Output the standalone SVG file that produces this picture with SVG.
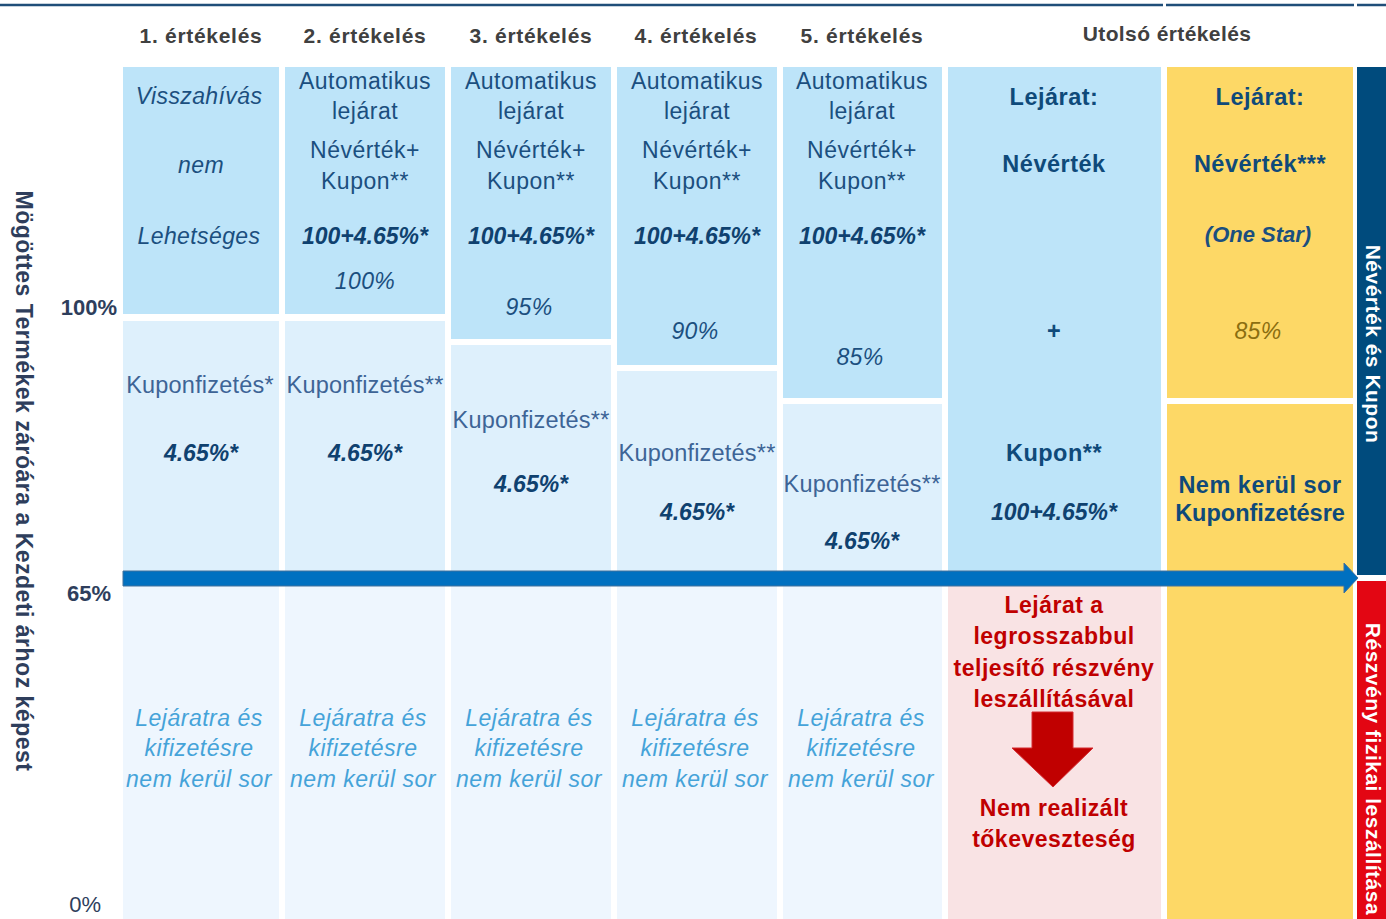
<svg xmlns="http://www.w3.org/2000/svg" width="1386" height="919" viewBox="0 0 1386 919">
<style>
text{font-family:"Liberation Sans",Arial,sans-serif;text-anchor:middle}
.hd{font-size:21px;font-weight:bold;fill:#404040;letter-spacing:0.7px}
.t{font-size:23px;fill:#1B4F7F;letter-spacing:0.5px}
.i{font-size:23px;font-style:italic;fill:#1B4F7F;letter-spacing:0.4px}
.bi{font-size:23px;font-style:italic;font-weight:bold;fill:#0F416F}
.kf{font-size:23.5px;fill:#3D6496;letter-spacing:0.2px}
.b{font-size:23.5px;font-weight:bold;fill:#0F4A7A;letter-spacing:0.5px}
.lo{font-size:23px;font-style:italic;fill:#45A3D9;letter-spacing:0.5px}
.rd{font-size:23px;font-weight:bold;fill:#C00000;letter-spacing:0.5px}
.ax{font-size:22px;font-weight:bold;fill:#2E3E5C;text-anchor:end}
.side{font-size:21px;font-weight:bold;fill:#FFFFFF;letter-spacing:0.5px}
.c1{fill:#BDE4F9}.c2{fill:#DEF0FC}.c3{fill:#EEF6FE}
</style>
<g id="topline" stroke="#1F4E79" stroke-width="2.5">
<line x1="0" y1="5" x2="1163" y2="5"/><line x1="1166" y1="5" x2="1354" y2="5"/><line x1="1357" y1="5" x2="1386" y2="5"/>
</g>
<g id="headers">
<text class="hd" x="201" y="43">1. értékelés</text>
<text class="hd" x="365" y="43">2. értékelés</text>
<text class="hd" x="531" y="43">3. értékelés</text>
<text class="hd" x="696" y="43">4. értékelés</text>
<text class="hd" x="862" y="43">5. értékelés</text>
<text class="hd" x="1167" y="41" style="letter-spacing:0.4px">Utolsó értékelés</text>
</g>
<g id="yaxis">
<text class="ax" x="117" y="315">100%</text>
<text class="ax" x="111" y="601">65%</text>
<text class="ax" x="101" y="912" style="font-weight:normal">0%</text>
<text x="16" y="481" transform="rotate(90 16 481)" style="font-size:23px;font-weight:bold;fill:#2E3E5C;letter-spacing:0.5px">Mögöttes Termékek záróára a Kezdeti árhoz képest</text>
</g>
<g id="col1">
<rect class="c1" x="123" y="67" width="156" height="247"/>
<rect class="c2" x="123" y="321" width="156" height="250"/>
<rect class="c3" x="123" y="586" width="156" height="333"/>
<text class="i" x="199" y="104">Visszahívás</text>
<text class="i" x="201" y="173">nem</text>
<text class="i" x="199" y="244">Lehetséges</text>
<text class="kf" x="200" y="393">Kuponfizetés*</text>
<text class="bi" x="201" y="461">4.65%*</text>
<text class="lo" x="199" y="726">Lejáratra és</text>
<text class="lo" x="199" y="756">kifizetésre</text>
<text class="lo" x="199" y="787">nem kerül sor</text>
</g>
<g id="col2">
<rect class="c1" x="285" y="67" width="160" height="247"/>
<rect class="c2" x="285" y="321" width="160" height="250"/>
<rect class="c3" x="285" y="586" width="160" height="333"/>
<text class="t" x="365" y="89">Automatikus</text>
<text class="t" x="365" y="119">lejárat</text>
<text class="t" x="365" y="158">Névérték+</text>
<text class="t" x="365" y="189">Kupon**</text>
<text class="bi" x="365" y="244">100+4.65%*</text>
<text class="i" x="365" y="289">100%</text>
<text class="kf" x="365" y="393">Kuponfizetés**</text>
<text class="bi" x="365" y="461">4.65%*</text>
<text class="lo" x="363" y="726">Lejáratra és</text>
<text class="lo" x="363" y="756">kifizetésre</text>
<text class="lo" x="363" y="787">nem kerül sor</text>
</g>
<g id="col3">
<rect class="c1" x="451" y="67" width="160" height="272"/>
<rect class="c2" x="451" y="345" width="160" height="226"/>
<rect class="c3" x="451" y="586" width="160" height="333"/>
<text class="t" x="531" y="89">Automatikus</text>
<text class="t" x="531" y="119">lejárat</text>
<text class="t" x="531" y="158">Névérték+</text>
<text class="t" x="531" y="189">Kupon**</text>
<text class="bi" x="531" y="244">100+4.65%*</text>
<text class="i" x="529" y="315">95%</text>
<text class="kf" x="531" y="428">Kuponfizetés**</text>
<text class="bi" x="531" y="492">4.65%*</text>
<text class="lo" x="529" y="726">Lejáratra és</text>
<text class="lo" x="529" y="756">kifizetésre</text>
<text class="lo" x="529" y="787">nem kerül sor</text>
</g>
<g id="col4">
<rect class="c1" x="617" y="67" width="160" height="298"/>
<rect class="c2" x="617" y="371" width="160" height="200"/>
<rect class="c3" x="617" y="586" width="160" height="333"/>
<text class="t" x="697" y="89">Automatikus</text>
<text class="t" x="697" y="119">lejárat</text>
<text class="t" x="697" y="158">Névérték+</text>
<text class="t" x="697" y="189">Kupon**</text>
<text class="bi" x="697" y="244">100+4.65%*</text>
<text class="i" x="695" y="339">90%</text>
<text class="kf" x="697" y="461">Kuponfizetés**</text>
<text class="bi" x="697" y="520">4.65%*</text>
<text class="lo" x="695" y="726">Lejáratra és</text>
<text class="lo" x="695" y="756">kifizetésre</text>
<text class="lo" x="695" y="787">nem kerül sor</text>
</g>
<g id="col5">
<rect class="c1" x="783" y="67" width="159" height="331"/>
<rect class="c2" x="783" y="404" width="159" height="167"/>
<rect class="c3" x="783" y="586" width="159" height="333"/>
<text class="t" x="862" y="89">Automatikus</text>
<text class="t" x="862" y="119">lejárat</text>
<text class="t" x="862" y="158">Névérték+</text>
<text class="t" x="862" y="189">Kupon**</text>
<text class="bi" x="862" y="244">100+4.65%*</text>
<text class="i" x="860" y="365">85%</text>
<text class="kf" x="862" y="492">Kuponfizetés**</text>
<text class="bi" x="862" y="549">4.65%*</text>
<text class="lo" x="861" y="726">Lejáratra és</text>
<text class="lo" x="861" y="756">kifizetésre</text>
<text class="lo" x="861" y="787">nem kerül sor</text>
</g>
<g id="final-blue">
<rect class="c1" x="948" y="67" width="213" height="504"/>
<text class="b" x="1054" y="105">Lejárat:</text>
<text class="b" x="1054" y="172">Névérték</text>
<text class="b" x="1054" y="339">+</text>
<text class="b" x="1054" y="461">Kupon**</text>
<text class="bi" x="1054" y="520">100+4.65%*</text>
</g>
<g id="final-loss">
<rect x="948" y="586" width="213" height="333" fill="#F9E3E4"/>
<text class="rd" x="1054" y="613">Lejárat a</text>
<text class="rd" x="1054" y="644">legrosszabbul</text>
<text class="rd" x="1054" y="676">teljesítő részvény</text>
<text class="rd" x="1054" y="707">leszállításával</text>
<path d="M1032 712H1073V748H1093L1053 787L1012 748H1032Z" fill="#C00000" stroke="#D42A30" stroke-width="1"/>
<text class="rd" x="1054" y="816">Nem realizált</text>
<text class="rd" x="1054" y="847">tőkeveszteség</text>
</g>
<g id="final-yellow">
<rect x="1167" y="67" width="186" height="331" fill="#FDD866"/>
<rect x="1167" y="404" width="186" height="515" fill="#FDD866"/>
<text class="b" x="1260" y="105">Lejárat:</text>
<text class="b" x="1260" y="172">Névérték***</text>
<text class="bi" x="1258" y="242" style="font-size:22px;fill:#1B4F7F">(One Star)</text>
<text class="i" x="1258" y="339" style="fill:#8B6E10">85%</text>
<text class="b" x="1260" y="493">Nem kerül sor</text>
<text class="b" x="1260" y="521" style="letter-spacing:0">Kuponfizetésre</text>
</g>
<g id="side-top">
<rect x="1357" y="67" width="29" height="508" fill="#004B7D"/>
<text class="side" x="1366" y="344" transform="rotate(90 1366 344)">Névérték és Kupon</text>
</g>
<g id="side-bottom">
<rect x="1357" y="581" width="29" height="338" fill="#E30613"/>
<text class="side" x="1366" y="769" transform="rotate(90 1366 769)">Részvény fizikai leszállítása</text>
</g>
<g id="connectors">
<path d="M123 571H1344V563L1358 578L1344 593V586H123Z" fill="#0070C0" stroke="#41719C" stroke-width="1"/>
</g>
</svg>
